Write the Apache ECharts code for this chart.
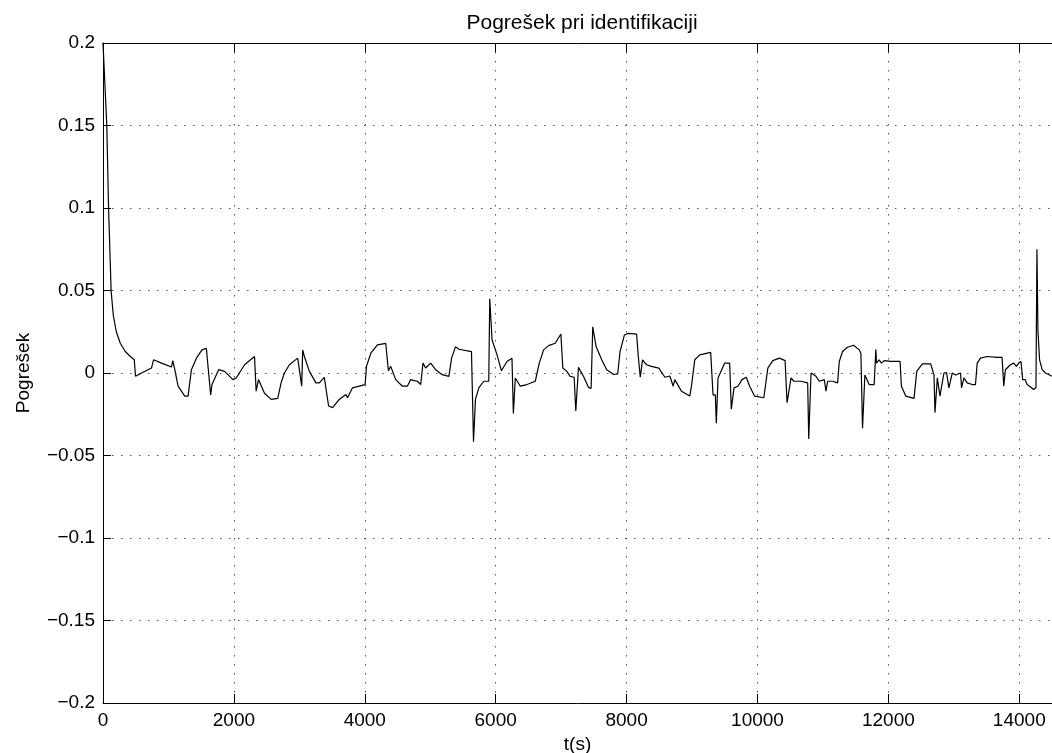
<!DOCTYPE html>
<html>
<head>
<meta charset="utf-8">
<script src="https://cdn.jsdelivr.net/npm/echarts@6/dist/echarts.min.js"></script>
<style>
html,body{margin:0;padding:0;background:#fff;}
#chart{width:1052px;height:753px;}
</style>
</head>
<body>
<div id="chart"></div>
<script>
const titleText = 'Pogrešek pri identifikaciji';
const xName = 't(s)';
const yName = 'Pogrešek';
const xTickLabels = ['0','2000','4000','6000','8000','10000','12000','14000'];
const yTickLabels = ['\u22120.2','\u22120.15','\u22120.1','\u22120.05','0','0.05','0.1','0.15','0.2'];

const tData = [
0,58,85,124,157,203,264,340,417,478,497,589,741,772,894,1046,1066,1097,1147,1249,1300,1351,
1427,1513,1579,1645,1665,1767,1858,1985,2036,2163,2315,2340,2376,2467,2569,2670,2721,2772,2848,2975,
3000,3036,3051,3077,3153,3254,3305,3381,3407,3447,3508,3610,3711,3736,3812,3914,4005,4026,4092,4193,
4320,4361,4396,4472,4574,4650,4701,4752,4803,4854,4889,4930,5006,5082,5183,5285,5326,5387,5437,5630,
5661,5691,5742,5818,5894,5909,5945,6021,6087,6173,6249,6270,6300,6376,6478,6503,6605,6666,6732,6808,
6910,6996,7026,7087,7138,7199,7224,7265,7341,7417,7458,7483,7534,7620,7696,7798,7864,7900,7966,8026,
8153,8179,8209,8244,8305,8381,8493,8585,8661,8712,8737,8838,8966,8991,9042,9118,9285,9321,9356,9371,
9397,9499,9575,9600,9641,9702,9763,9829,9880,9956,10097,10158,10234,10336,10422,10452,10473,10513,10554,10666,
10767,10783,10818,10894,10945,11021,11046,11072,11148,11224,11250,11300,11376,11468,11555,11580,11605,11641,11707,11732,
11783,11808,11819,11859,11894,11935,12036,12179,12199,12265,12392,12433,12519,12646,12697,12712,12748,12788,12849,12889,
12925,12976,13027,13103,13118,13154,13204,13280,13331,13357,13407,13509,13661,13737,13763,13788,13864,13915,13955,13991,
14026,14052,14092,14118,14158,14219,14255,14270,14285,14310,14350,14400,14500
];
const eData = [
0.2,0.15,0.1,0.05,0.035,0.025,0.018,0.013,0.010,0.008,-0.002,0.0,0.003,0.008,0.006,0.0036,0.0075,0.002,-0.008,-0.014,-0.014,0.002,
0.009,0.014,0.015,-0.0133,-0.007,0.002,0.001,-0.004,-0.003,0.005,0.010,-0.011,-0.004,-0.0123,-0.016,-0.0154,-0.006,0.0,0.005,0.009,
0.0095,-0.008,0.014,0.010,0.001,-0.006,-0.006,-0.0026,-0.003,-0.020,-0.021,-0.016,-0.013,-0.015,-0.009,-0.008,-0.007,0.004,0.012,0.017,
0.018,0.0014,0.004,-0.004,-0.008,-0.008,-0.004,-0.0046,-0.005,-0.007,0.006,0.003,0.006,0.002,-0.001,-0.002,0.009,0.016,0.0144,0.013,
-0.0416,-0.016,-0.009,-0.005,-0.005,0.045,0.020,0.011,0.0014,0.007,0.009,-0.0245,-0.003,-0.008,-0.007,-0.0067,-0.005,0.006,0.014,0.0166,
0.018,0.0236,0.003,0.001,-0.002,-0.0026,-0.023,0.0034,-0.002,-0.0087,-0.0093,0.028,0.016,0.008,0.002,-0.0008,-0.0006,0.013,0.023,0.024,
0.0236,0.010,-0.0026,0.008,0.005,0.004,0.003,-0.0026,-0.0018,-0.008,-0.004,-0.011,-0.014,-0.008,0.008,0.011,0.0125,-0.0133,-0.0133,-0.0305,
-0.003,0.006,0.006,-0.022,-0.009,-0.008,-0.004,-0.0026,-0.008,-0.014,-0.015,0.003,0.0075,0.009,0.0075,-0.018,-0.018,-0.003,-0.005,-0.005,
-0.006,-0.040,0.0,-0.002,-0.005,-0.004,-0.011,-0.005,-0.005,-0.006,0.007,0.013,0.0156,0.0168,0.014,0.012,-0.0335,-0.0012,-0.007,-0.008,
-0.007,0.0143,0.006,0.008,0.006,0.0075,0.007,0.007,-0.008,-0.014,-0.0154,0.001,0.0055,0.0055,-0.0012,-0.024,-0.003,-0.014,0.0,0.0002,
-0.009,0.0,-0.0012,0.0,-0.009,-0.003,-0.006,-0.007,-0.007,0.006,0.009,0.010,0.0095,0.0095,-0.008,0.002,0.005,0.006,0.004,0.006,
0.007,-0.004,-0.004,-0.007,-0.008,-0.010,-0.009,0.075,0.026,0.008,0.002,0.000,-0.002
];

const FONT = "'Liberation Sans', Arial, Helvetica, sans-serif";
const chart = echarts.init(document.getElementById('chart'), null, {renderer: 'canvas'});
const gridLine = {show: true, lineStyle: {color: '#555', width: 1, type: [1.5, 7.5]}};
const axisLine = {show: true, onZero: false, lineStyle: {color: '#000', width: 1}};

const option = {
  animation: false,
  backgroundColor: '#fff',
  title: {
    text: titleText,
    left: 577, top: 8, textAlign: 'center',
    textStyle: {fontFamily: FONT, fontSize: 21, fontWeight: 'normal', color: '#000'}
  },
  grid: {left: 103, top: 43, right: 0, bottom: 50, containLabel: false, outerBoundsMode: 'none'},
  xAxis: [{
    type: 'value', min: 0, max: 14500, interval: 2000, position: 'bottom',
    name: xName, nameLocation: 'middle', nameGap: 25,
    nameTextStyle: {fontFamily: FONT, fontSize: 19, color: '#000'},
    axisLine: axisLine,
    axisTick: {show: true, inside: true, length: 9, lineStyle: {color: '#000'}},
    axisLabel: {
      fontFamily: FONT, fontSize: 19, color: '#000', margin: 8, showMaxLabel: false,
      formatter: function (v) { const i = Math.round(v / 2000); return (v % 2000 === 0 && xTickLabels[i] !== undefined) ? xTickLabels[i] : ''; }
    },
    splitLine: gridLine
  }, {
    type: 'value', min: 0, max: 14500, interval: 2000, position: 'top',
    axisLine: axisLine,
    axisTick: {show: true, inside: true, length: 9, lineStyle: {color: '#000'}},
    axisLabel: {show: false}, splitLine: {show: false}
  }],
  yAxis: [{
    type: 'value', min: -0.2, max: 0.2, interval: 0.05, position: 'left',
    name: yName, nameLocation: 'middle', nameGap: 70, nameRotate: 90,
    nameTextStyle: {fontFamily: FONT, fontSize: 19, color: '#000'},
    axisLine: axisLine,
    axisTick: {show: true, inside: true, length: 8, lineStyle: {color: '#000'}},
    axisLabel: {
      fontFamily: FONT, fontSize: 19, color: '#000', margin: 8,
      formatter: function (v) { const i = Math.round((v + 0.2) / 0.05); return yTickLabels[i]; }
    },
    splitLine: gridLine
  }],
  series: [{
    type: 'line',
    data: tData.map((t, i) => [t, eData[i]]),
    showSymbol: false, symbol: 'none',
    lineStyle: {color: '#000', width: 1.2},
    clip: true
  }]
};
chart.setOption(option);
</script>
</body>
</html>
